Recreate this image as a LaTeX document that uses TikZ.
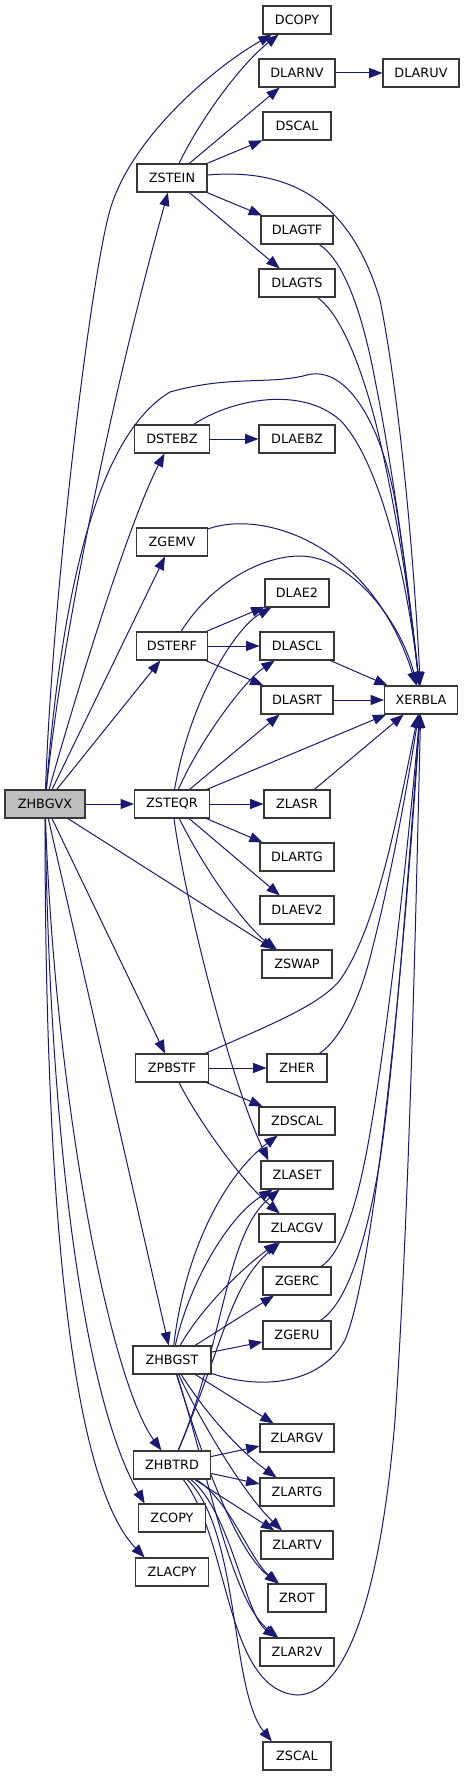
\documentclass[tikz,border=0pt]{standalone}
\usepackage{fontspec}
\setmainfont{DejaVu Sans}
\usetikzlibrary{arrows.meta}
\definecolor{edgecol}{RGB}{25,25,112}
\definecolor{boxcol}{RGB}{55,55,55}
\definecolor{rootfill}{RGB}{191,191,191}
\pgfdeclarelayer{bg}
\pgfsetlayers{bg,main}
\begin{document}
\begin{tikzpicture}[x=0.75pt,y=-0.75pt,
  box/.style={draw=boxcol, line width=0.8pt, fill=white, minimum height=21pt, inner sep=0pt,
    font=\fontsize{9.6}{11}\selectfont, text=black},
  edge/.style={draw=edgecol, line width=0.75pt, -{Triangle[length=10pt,width=7.5pt]}}]
\useasboundingbox (0,0) rectangle (464,1776);
% nodes
\node[box, minimum width=51pt]    (DCOPY)  at (297,20)   {DCOPY};
\node[box, minimum width=57pt]    (DLARNV) at (297,73)   {DLARNV};
\node[box, minimum width=57pt]    (DLARUV) at (421,73)   {DLARUV};
\node[box, minimum width=51pt]    (DSCAL)  at (297,126)  {DSCAL};
\node[box, minimum width=52.5pt]  (ZSTEIN) at (172,178)  {ZSTEIN};
\node[box, minimum width=54pt]    (DLAGTF) at (297,230)  {DLAGTF};
\node[box, minimum width=57pt]    (DLAGTS) at (297,283)  {DLAGTS};
\node[box, minimum width=56.25pt] (DSTEBZ) at (172,439)  {DSTEBZ};
\node[box, minimum width=57pt]    (DLAEBZ) at (297,439)  {DLAEBZ};
\node[box, minimum width=53.25pt] (ZGEMV)  at (172,542)  {ZGEMV};
\node[box, minimum width=48pt]    (DLAE2)  at (297,593)  {DLAE2};
\node[box, minimum width=53.25pt] (DSTERF) at (172,646)  {DSTERF};
\node[box, minimum width=55.5pt]  (DLASCL) at (297,646)  {DLASCL};
\node[box, minimum width=54pt]    (DLASRT) at (297,700)  {DLASRT};
\node[box, minimum width=54.75pt] (XERBLA) at (421,700)  {XERBLA};
\node[box, minimum width=60pt, fill=rootfill] (ZHBGVX) at (45,804) {ZHBGVX};
\node[box, minimum width=56.25pt] (ZSTEQR) at (172,804)  {ZSTEQR};
\node[box, minimum width=49.5pt]  (ZLASR)  at (297,804)  {ZLASR};
\node[box, minimum width=55.5pt]  (DLARTG) at (297,857)  {DLARTG};
\node[box, minimum width=55.5pt]  (DLAEV2) at (297,910)  {DLAEV2};
\node[box, minimum width=52.5pt]  (ZSWAP)  at (297,964)  {ZSWAP};
\node[box, minimum width=54.75pt] (ZPBSTF) at (172,1068) {ZPBSTF};
\node[box, minimum width=45pt]    (ZHER)   at (297,1068) {ZHER};
\node[box, minimum width=57pt]    (ZDSCAL) at (297,1121) {ZDSCAL};
\node[box, minimum width=54pt]    (ZLASET) at (297,1175) {ZLASET};
\node[box, minimum width=57pt]    (ZLACGV) at (297,1228) {ZLACGV};
\node[box, minimum width=51pt]    (ZGERC)  at (297,1281) {ZGERC};
\node[box, minimum width=51pt]    (ZGERU)  at (297,1335) {ZGERU};
\node[box, minimum width=58.5pt]  (ZHBGST) at (172,1360) {ZHBGST};
\node[box, minimum width=55.5pt]  (ZLARGV) at (297,1438) {ZLARGV};
\node[box, minimum width=57.75pt] (ZHBTRD) at (172,1465) {ZHBTRD};
\node[box, minimum width=55.5pt]  (ZLARTG) at (297,1492) {ZLARTG};
\node[box, minimum width=50.25pt] (ZCOPY)  at (172,1518) {ZCOPY};
\node[box, minimum width=54pt]    (ZLARTV) at (297,1545) {ZLARTV};
\node[box, minimum width=54.75pt] (ZLACPY) at (172,1572) {ZLACPY};
\node[box, minimum width=43.5pt]  (ZROT)   at (297,1598) {ZROT};
\node[box, minimum width=55.5pt]  (ZLAR2V) at (297,1652) {ZLAR2V};
\node[box, minimum width=51pt]    (ZSCAL)  at (297,1756) {ZSCAL};
\begin{pgfonlayer}{bg}
% ZHBGVX
\draw[edge] (ZHBGVX) .. controls (52,600) and (90,280) .. (110,210) .. controls (130,140) and (210,70) .. (DCOPY);
\draw[edge] (ZHBGVX) .. controls (60,650) and (110,400) .. (ZSTEIN);
\draw[edge] (ZHBGVX) .. controls (60,620) and (90,440) .. (170,392) .. controls (230,375) and (270,385) .. (307,375) .. controls (345,365) and (380,420) .. (395,500) .. controls (405,560) and (412,620) .. (XERBLA);
\draw[edge] (ZHBGVX) .. controls (80,680) and (130,520) .. (DSTEBZ);
\draw[edge] (ZHBGVX) -- (ZGEMV);
\draw[edge] (ZHBGVX) -- (DSTERF);
\draw[edge] (ZHBGVX) -- (ZSTEQR);
\draw[edge] (ZHBGVX) -- (ZSWAP);
\draw[edge] (ZHBGVX) -- (ZPBSTF);
\draw[edge] (ZHBGVX) -- (ZHBGST);
\draw[edge] (ZHBGVX) .. controls (55,1100) and (110,1380) .. (ZHBTRD);
\draw[edge] (ZHBGVX) .. controls (50,1150) and (85,1400) .. (ZCOPY.152);
\draw[edge] (ZHBGVX) .. controls (45,1200) and (70,1480) .. (ZLACPY.152);
% ZSTEIN
\draw[edge] (ZSTEIN) .. controls (200,120) and (240,65) .. (DCOPY);
\draw[edge] (ZSTEIN) -- (DLARNV);
\draw[edge] (ZSTEIN) -- (DSCAL);
\draw[edge] (ZSTEIN) -- (DLAGTF);
\draw[edge] (ZSTEIN) -- (DLAGTS);
\draw[edge] (ZSTEIN) .. controls (290,168) and (350,200) .. (380,300) .. controls (400,400) and (414,560) .. (XERBLA);
\draw[edge] (DLARNV) -- (DLARUV);
\draw[edge] (DLAGTF) .. controls (340,258) and (360,300) .. (375,380) .. controls (395,480) and (410,600) .. (XERBLA);
\draw[edge] (DLAGTS) .. controls (335,310) and (355,345) .. (375,420) .. controls (395,500) and (410,600) .. (XERBLA);
% DSTEBZ, ZGEMV, DSTERF
\draw[edge] (DSTEBZ) -- (DLAEBZ);
\draw[edge] (DSTEBZ) .. controls (230,400) and (300,385) .. (340,420) .. controls (375,455) and (405,560) .. (XERBLA);
\draw[edge] (ZGEMV) .. controls (260,510) and (370,540) .. (XERBLA);
\draw[edge] (DSTERF) .. controls (210,585) and (260,556) .. (300,556) .. controls (350,556) and (400,620) .. (XERBLA);
\draw[edge] (DSTERF) -- (DLAE2);
\draw[edge] (DSTERF) -- (DLASCL);
\draw[edge] (DSTERF) -- (DLASRT);
\draw[edge] (DLASCL) -- (XERBLA);
\draw[edge] (DLASRT) -- (XERBLA);
% ZSTEQR
\draw[edge] (ZSTEQR) .. controls (190,700) and (235,628) .. (DLAE2);
\draw[edge] (ZSTEQR) .. controls (200,740) and (245,680) .. (DLASCL);
\draw[edge] (ZSTEQR) -- (DLASRT);
\draw[edge] (ZSTEQR) -- (XERBLA);
\draw[edge] (ZSTEQR) -- (ZLASR);
\draw[edge] (ZLASR) -- (XERBLA);
\draw[edge] (ZSTEQR) -- (DLARTG);
\draw[edge] (ZSTEQR) -- (DLAEV2);
\draw[edge] (ZSTEQR) .. controls (210,880) and (250,930) .. (ZSWAP);
\draw[edge] (ZSTEQR) .. controls (185,900) and (230,1080) .. (ZLASET.153);
% ZPBSTF
\draw[edge] (ZPBSTF) -- (ZHER);
\draw[edge] (ZPBSTF) -- (ZDSCAL);
\draw[edge] (ZPBSTF) .. controls (195,1115) and (240,1180) .. (ZLACGV);
\draw[edge] (ZPBSTF) .. controls (270,1025) and (320,1005) .. (340,980) .. controls (375,930) and (395,830) .. (XERBLA);
\draw[edge] (ZHER) .. controls (340,1040) and (360,1000) .. (372,950) .. controls (390,880) and (405,800) .. (XERBLA);
\draw[edge] (ZGERC) .. controls (340,1255) and (355,1210) .. (365,1160) .. controls (385,1060) and (408,850) .. (XERBLA);
\draw[edge] (ZGERU) .. controls (345,1305) and (365,1250) .. (380,1160) .. controls (395,1060) and (410,850) .. (XERBLA);
% ZHBGST
\draw[edge] (ZHBGST) .. controls (260,1390) and (320,1385) .. (345,1340) .. controls (375,1270) and (405,950) .. (XERBLA);
\draw[edge] (ZHBGST) .. controls (185,1250) and (225,1175) .. (ZDSCAL);
\draw[edge] (ZHBGST) .. controls (190,1280) and (230,1215) .. (ZLASET);
\draw[edge] (ZHBGST) .. controls (200,1310) and (240,1270) .. (ZLACGV);
\draw[edge] (ZHBGST) -- (ZGERC);
\draw[edge] (ZHBGST) -- (ZGERU);
\draw[edge] (ZHBGST) -- (ZLARGV);
\draw[edge] (ZHBGST) .. controls (210,1420) and (245,1455) .. (ZLARTG);
\draw[edge] (ZHBGST) .. controls (195,1410) and (240,1490) .. (ZLARTV);
\draw[edge] (ZHBGST) .. controls (200,1450) and (235,1550) .. (ZROT);
\draw[edge] (ZHBGST) .. controls (205,1460) and (230,1600) .. (ZLAR2V);
% ZHBTRD
\draw[edge] (ZHBTRD) .. controls (225,1340) and (225,1235) .. (ZLASET);
\draw[edge] (ZHBTRD) .. controls (225,1340) and (230,1285) .. (ZLACGV);
\draw[edge] (ZHBTRD) -- (ZLARGV);
\draw[edge] (ZHBTRD) -- (ZLARTG);
\draw[edge] (ZHBTRD) -- (ZLARTV);
\draw[edge] (ZHBTRD) .. controls (230,1500) and (250,1560) .. (ZROT);
\draw[edge] (ZHBTRD) .. controls (230,1510) and (245,1615) .. (ZLAR2V);
\draw[edge] (ZHBTRD) .. controls (240,1530) and (230,1690) .. (ZSCAL.150);
\draw[edge] (ZHBTRD) .. controls (230,1540) and (225,1690) .. (297,1695) .. controls (345,1695) and (380,1600) .. (395,1420) .. controls (410,1200) and (416,900) .. (XERBLA);
\end{pgfonlayer}
\end{tikzpicture}
\end{document}
